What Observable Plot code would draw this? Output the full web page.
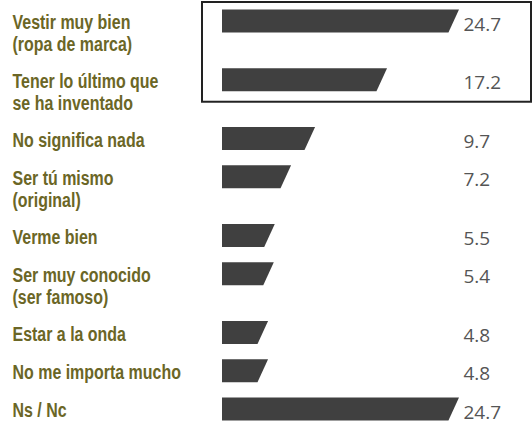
<!DOCTYPE html>
<html>
<head>
<meta charset="utf-8">
<script src="https://cdn.jsdelivr.net/npm/d3@7"></script>
<script src="https://cdn.jsdelivr.net/npm/@observablehq/plot@0.6"></script>
<style>
  html, body { margin: 0; padding: 0; background: #fff; }
  svg { display: block; }
</style>
</head>
<body>
<div id="chart"></div>
<script>
const labels = [
  "Vestir muy bien\n(ropa de marca)",
  "Tener lo último que\nse ha inventado",
  "No significa nada",
  "Ser tú mismo\n(original)",
  "Verme bien",
  "Ser muy conocido\n(ser famoso)",
  "Estar a la onda",
  "No me importa mucho",
  "Ns / Nc"
];
const values = [24.7, 17.2, 9.7, 7.2, 5.5, 5.4, 4.8, 4.8, 24.7];
const highlighted = [true, true, false, false, false, false, false, false, false];

// vertical layout derived from number of label lines
const gapUnits = 0.87;
const rows = [];
let acc = 0;
labels.forEach((label, i) => {
  const lines = label.split("\n").length;
  rows.push({label, value: values[i], pos: acc, highlighted: highlighted[i]});
  acc += lines + gapUnits;
});
const lastPos = rows[rows.length - 1].pos;

const halfBar = 0.56;   // half bar thickness (y units)
const slant = 1.1;      // slant of bar end (x units)
const barPoints = rows.flatMap(r => [
  {label: r.label, y: r.pos - halfBar, x1: 0, x2: r.value},
  {label: r.label, y: r.pos + halfBar, x1: 0, x2: r.value - slant}
]);

const hl = rows.filter(r => r.highlighted);
const box = [{
  x1: 0, x2: d3.max(values),
  y1: d3.min(hl, r => r.pos), y2: d3.max(hl, r => r.pos)
}];

const olive = "#6b6626";

const chart = Plot.plot({
  width: 532,
  height: 423,
  marginLeft: 222,
  marginRight: 73,
  marginTop: 21,
  marginBottom: 14,
  x: {domain: [0, d3.max(values)], axis: null},
  y: {domain: [0, lastPos], reverse: true, axis: null},
  style: {background: "#fff", overflow: "visible"},
  marks: [
    Plot.rect(box, {
      x1: "x1", x2: "x2", y1: "y1", y2: "y2",
      insetLeft: -20, insetRight: -72, insetTop: -19, insetBottom: -22,
      fill: "none", stroke: "#222", strokeWidth: 2
    }),
    Plot.areaX(barPoints, {
      y: "y", x1: "x1", x2: "x2", z: "label",
      fill: "#404040", curve: "linear"
    }),
    Plot.text(rows, {
      y: "pos", text: d => d.value.toFixed(1),
      frameAnchor: "right", textAnchor: "start", dx: 4, dy: 3,
      fill: "#555", fontSize: 19,
      fontFamily: "'Open Sans', 'Noto Sans', sans-serif"
    }),
    Plot.text(rows, {
      y: "pos", text: "label",
      frameAnchor: "left", textAnchor: "start", dx: -210,
      lineAnchor: "top", dy: -8, lineHeight: 1.05,
      fill: olive, fontSize: 21, fontWeight: "bold",
      fontFamily: "'Liberation Sans', Arial, sans-serif"
    })
  ]
});

// condense the category labels horizontally (narrow display face look)
const sx = 0.76;
const textGroups = d3.select(chart).selectAll("g[aria-label='text']").nodes();
const labelGroup = textGroups[textGroups.length - 1];
d3.select(labelGroup).selectAll("text").each(function() {
  const t = d3.select(this);
  const tr = t.attr("transform");
  if (tr) {
    t.attr("transform", tr + ` scale(${sx},1)`);
  } else {
    const x = +t.attr("x") || 0;
    t.attr("transform", `translate(${x},0) scale(${sx},1) translate(${-x},0)`);
  }
});

document.getElementById("chart").appendChild(chart);
</script>
</body>
</html>
